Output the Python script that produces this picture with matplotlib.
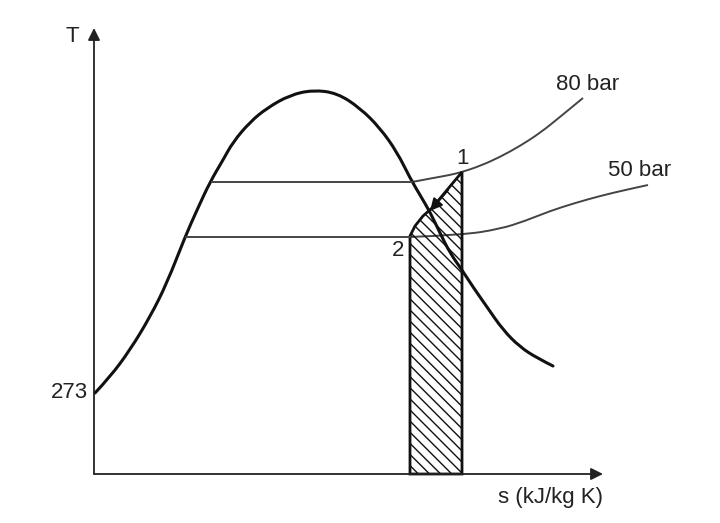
import matplotlib
matplotlib.use('Agg')
import matplotlib.pyplot as plt
from matplotlib.patches import Polygon, PathPatch
from matplotlib.path import Path

plt.rcParams['font.family'] = ['Liberation Sans', 'DejaVu Sans']
plt.rcParams['hatch.linewidth'] = 1.0

# Saturation dome (sketch coordinates)
dome_s = [95, 110, 130, 150, 167, 185, 197, 210, 223, 233, 250, 267, 290, 313,
          337, 360, 380, 397, 410, 420, 430, 440, 450, 462, 473, 487, 503, 520,
          537, 553]
dome_T = [393, 377, 350, 317, 283, 237, 210, 182, 160, 142, 122, 108, 95, 90,
          93, 108, 128, 152, 178, 195, 212, 233, 253, 270, 287, 307, 330, 347,
          358, 366]

# 80 bar isobar
p80_s = [212, 412, 433, 450, 462, 480, 500, 520, 540, 560, 583]
p80_T = [182, 182, 178, 175, 172, 166, 157, 146, 133, 117, 98]

# 50 bar isobar
p50_s = [186, 410, 462, 500, 525, 550, 575, 600, 625, 648]
p50_T = [237, 237, 235, 229, 221, 211, 203, 196, 190, 185]

# hatched area under the 1 -> 2 process
area_s = [410, 410, 415, 423, 432, 462, 462]
area_T = [474, 236, 226, 216, 208, 172, 474]


def smooth_path(xs, ys):
    # quadratic bezier through midpoints, read points act as control points
    pts = list(zip(xs, ys))
    verts = [pts[0]]
    codes = [Path.MOVETO]
    for i in range(1, len(pts) - 1):
        nxt = pts[i + 1] if i == len(pts) - 2 else (
            (pts[i][0] + pts[i + 1][0]) / 2, (pts[i][1] + pts[i + 1][1]) / 2)
        verts += [pts[i], nxt]
        codes += [Path.CURVE3, Path.CURVE3]
    return Path(verts, codes)


fig = plt.figure(figsize=(7.2, 5.23), dpi=100)
ax = fig.add_axes([0, 0, 1, 1])
ax.set_xlim(0, 720)
ax.set_ylim(523, 0)
ax.axis('off')

# axes with arrows
ax.annotate('', xy=(94, 28), xytext=(94, 474),
            arrowprops=dict(arrowstyle='-|>', color='#222222', lw=1.3,
                            mutation_scale=18, shrinkA=0, shrinkB=0))
ax.annotate('', xy=(603, 474), xytext=(94, 474),
            arrowprops=dict(arrowstyle='-|>', color='#222222', lw=1.3,
                            mutation_scale=18, shrinkA=0, shrinkB=0))

ax.plot(p80_s[:2], p80_T[:2], color='#444444', lw=1.4)
ax.add_patch(PathPatch(smooth_path(p80_s[1:], p80_T[1:]), fill=False,
                       edgecolor='#444444', lw=1.4))
ax.plot(p50_s[:2], p50_T[:2], color='#444444', lw=1.4)
ax.add_patch(PathPatch(smooth_path(p50_s[1:], p50_T[1:]), fill=False,
                       edgecolor='#444444', lw=1.4))
ax.add_patch(PathPatch(smooth_path(dome_s, dome_T), fill=False,
                       edgecolor='#111111', lw=2.2, capstyle='round'))

ax.add_patch(Polygon(list(zip(area_s, area_T)), closed=True, facecolor='none',
                     edgecolor='#111111', hatch='\\\\\\', lw=2.0))
ax.annotate('', xy=(430, 211), xytext=(448, 190),
            arrowprops=dict(arrowstyle='-|>', color='#111111', lw=1.5,
                            mutation_scale=18, shrinkA=0, shrinkB=0))

txt = dict(color='#222222', fontsize=16)
ax.text(72, 37, 'T', ha='center', va='center', **txt)
ax.text(88, 393, '273', ha='right', va='center', **txt)
ax.text(588, 84, '80 bar', ha='center', va='center', **txt)
ax.text(640, 171, '50 bar', ha='center', va='center', **txt)
ax.text(462, 158, '1', ha='center', va='center', **txt)
ax.text(398, 250, '2', ha='center', va='center', **txt)
ax.text(550, 497, 's (kJ/kg K)', ha='center', va='center', **txt)

fig.savefig('out.png', dpi=100)
